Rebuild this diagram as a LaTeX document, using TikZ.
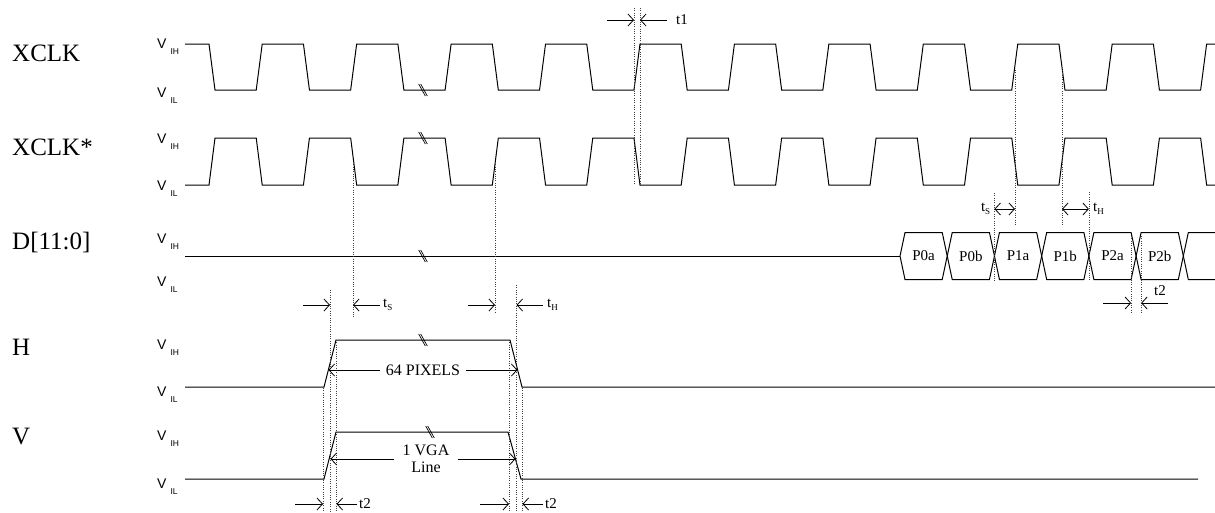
\documentclass[tikz,border=0pt]{standalone}
\usepackage{fontspec}
\setmainfont{Liberation Serif}
\newfontfamily\figSans{Liberation Sans}
\usetikzlibrary{arrows.meta, calc}
\newcommand{\figArrow}{{Straight Barb[length=5.5pt, width=12pt]}}
\newcommand{\figLevel}[1]{{\figSans\fontsize{14}{15}\selectfont V\hspace{4pt}\raisebox{-6pt}{\fontsize{8.5}{9}\selectfont #1}}}
\newcommand{\figSub}[2]{#1\raisebox{-3.5pt}{\fontsize{9}{10}\selectfont #2}}

\tikzset{
	wave/.style={line width=1pt},
	guide/.style={line width=0.7pt, black!75, dash pattern=on 1pt off 1.3pt},
	dim/.style={line width=0.8pt, -\figArrow},
	dimboth/.style={line width=0.8pt, {Straight Barb[length=5.5pt, width=12pt]}-{Straight Barb[length=5.5pt, width=12pt]}},
	rowlabel/.style={anchor=base west, inner sep=0pt, font=\fontsize{25}{28}\selectfont},
	level/.style={anchor=base west, inner sep=0pt},
	tlab/.style={anchor=west, inner ysep=0pt, inner xsep=4pt, font=\fontsize{15}{17}\selectfont},
	wavebreak/.pic={
		\draw[line width=0.7pt] (-4.3,-6) -- (2.3,6) (-2.3,-6) -- (4.3,6);
	}
}

\begin{document}
\begin{tikzpicture}[x=1pt, y=-1pt, font=\fontsize{15}{17}\selectfont]
	\def\clkP{94.44}
	\def\clkH{47.22}
	\useasboundingbox (0,0) rectangle (1215,512);

	% signal names and levels
	\foreach \name/\txt/\y in {xclk/XCLK/61, xclkn/XCLK*/155, data/D[11:0]/249, hsig/H/355.5, vsig/V/444.5} {
		\node[rowlabel] (\name) at (12,\y) {\txt};
	}
	\foreach \name/\yh/\yl in {xclk/48/97, xclkn/143/190, data/243/286, hsig/349.5/396.5, vsig/440.5/488.5} {
		\node[level] (\name-ih) at (157,\yh) {\figLevel{IH}};
		\node[level] (\name-il) at (157,\yl) {\figLevel{IL}};
	}

	% clocks
	\draw[wave] (185,44) \foreach \k in {0,...,10} {
		-- ({209+\clkP*\k},44) -- ({215+\clkP*\k},90) -- ({209+\clkH+\clkP*\k},90) -- ({215+\clkH+\clkP*\k},44)
	} -- (1215,44);
	\draw[wave] (185,185) \foreach \k in {0,...,10} {
		-- ({209+\clkP*\k},185) -- ({215+\clkP*\k},138) -- ({209+\clkH+\clkP*\k},138) -- ({215+\clkH+\clkP*\k},185)
	} -- (1215,185);

	% data bus
	\draw[wave] (185,256) -- (900,256);
	\foreach \lab [count=\j from 0] in {P0a,P0b,P1a,P1b,P2a,P2b} {
		\draw[wave] ({900+\clkH*\j},256) -- ++(5,-23.5) -- ({895+\clkH*(\j+1)},232.5) -- ++(5,23.5)
			-- ++(-5,23.5) -- ({905+\clkH*\j},279.5) -- cycle;
		\node (\lab) at ({900+\clkH*(\j+0.5)},256) {\lab};
	}
	\draw[wave] (1215,232.5) -- ({905+6*\clkH},232.5) -- ({900+6*\clkH},256) -- ({905+6*\clkH},279.5) -- (1215,279.5);

	% H and V
	\draw[wave] (185,387) -- (324,387) -- (336,340) -- (510,340) -- (522,387) -- (1215,387);
	\draw[wave] (185,479) -- (324,479) -- (336,432) -- (508,432) -- (521,479) -- (1198,479);

	\foreach \x/\y in {423/90, 423/138, 423/256, 423/340, 430/432}
		\pic at (\x,\y) {wavebreak};

	% guides
	\foreach \x/\ya/\yb in {634/8/184, 640/8/186, 353/162/317, 495/162/313, 330/290/512, 516.5/285/512,
			323/388/512, 336.5/340/512, 509/340/512, 522.5/388/512,
			994.4/193/282, 1015/70/225, 1062/70/225, 1088.9/192/280, 1131.1/236/312, 1141.1/236/312}
		\draw[guide] (\x,\ya) -- (\x,\yb);

	% t1
	\coordinate (t1a) at (634,20);
	\coordinate (t1b) at (640,20);
	\node[tlab, inner xsep=9pt] (t1) at (667,20) {t1};
	\draw[dim] ($(t1a)+(-27,0)$) -- (t1a);
	\draw[dim] (t1.west) -- (t1b);

	% setup / hold of H
	\coordinate (hS1) at (330,305);
	\coordinate (hS2) at (353,305);
	\coordinate (hH1) at (495,305);
	\coordinate (hH2) at (516.5,305);
	\node[tlab, inner xsep=3pt] (hts) at (380,305) {\figSub{t}{S}};
	\node[tlab] (hth) at (543,305) {\figSub{t}{H}};
	\draw[dim] ($(hS1)+(-27,0)$) -- (hS1);
	\draw[dim] (hts.west) -- (hS2);
	\draw[dim] ($(hH1)+(-27,0)$) -- (hH1);
	\draw[dim] (hth.west) -- (hH2);

	% widths
	\node[font=\fontsize{16}{18}\selectfont, inner xsep=6pt] (pix) at (423,370) {64 PIXELS};
	\coordinate (pixL) at (328.5,370);
	\coordinate (pixR) at (517.5,370);
	\draw[dim] (pix.west) -- (pixL);
	\draw[dim] (pix.east) -- (pixR);

	\node[font=\fontsize{16}{17}\selectfont, align=center, inner xsep=8pt] (vga) at (426,459) {1 VGA\\Line};
	\coordinate (vgaL) at (330.5,459);
	\coordinate (vgaR) at (515.5,459);
	\draw[dim] (vga.west) -- (vgaL);
	\draw[dim] (vga.east) -- (vgaR);

	% t2 of V
	\coordinate (vt1) at (323,504);
	\coordinate (vt2) at (336.5,504);
	\coordinate (vt3) at (509,504);
	\coordinate (vt4) at (522.5,504);
	\node[tlab, inner xsep=2pt] (vt2lab) at (357,504) {t2};
	\node[tlab, inner xsep=2pt] (vt4lab) at (543,504) {t2};
	\draw[dim] ($(vt1)+(-28,0)$) -- (vt1);
	\draw[dim] (vt2lab.west) -- (vt2);
	\draw[dim] ($(vt3)+(-29,0)$) -- (vt3);
	\draw[dim] (vt4lab.west) -- (vt4);

	% setup / hold / t2 of D
	\coordinate (dS1) at (994.4,209);
	\coordinate (dS2) at (1015,209);
	\coordinate (dH1) at (1062,209);
	\coordinate (dH2) at (1088.9,209);
	\node[tlab, anchor=east] (dts) at (dS1) {\figSub{t}{S}};
	\node[tlab] (dth) at (dH2) {\figSub{t}{H}};
	\draw[dimboth] (dS1) -- (dS2);
	\draw[dimboth] (dH1) -- (dH2);

	\coordinate (dt2a) at (1131.1,303);
	\coordinate (dt2b) at (1141.1,303);
	\node[font=\fontsize{15}{17}\selectfont, inner sep=0pt] (dt2) at (1160,291) {t2};
	\draw[dim] ($(dt2a)+(-28,0)$) -- (dt2a);
	\draw[dim] ($(dt2b)+(27,0)$) -- (dt2b);
\end{tikzpicture}
\end{document}
